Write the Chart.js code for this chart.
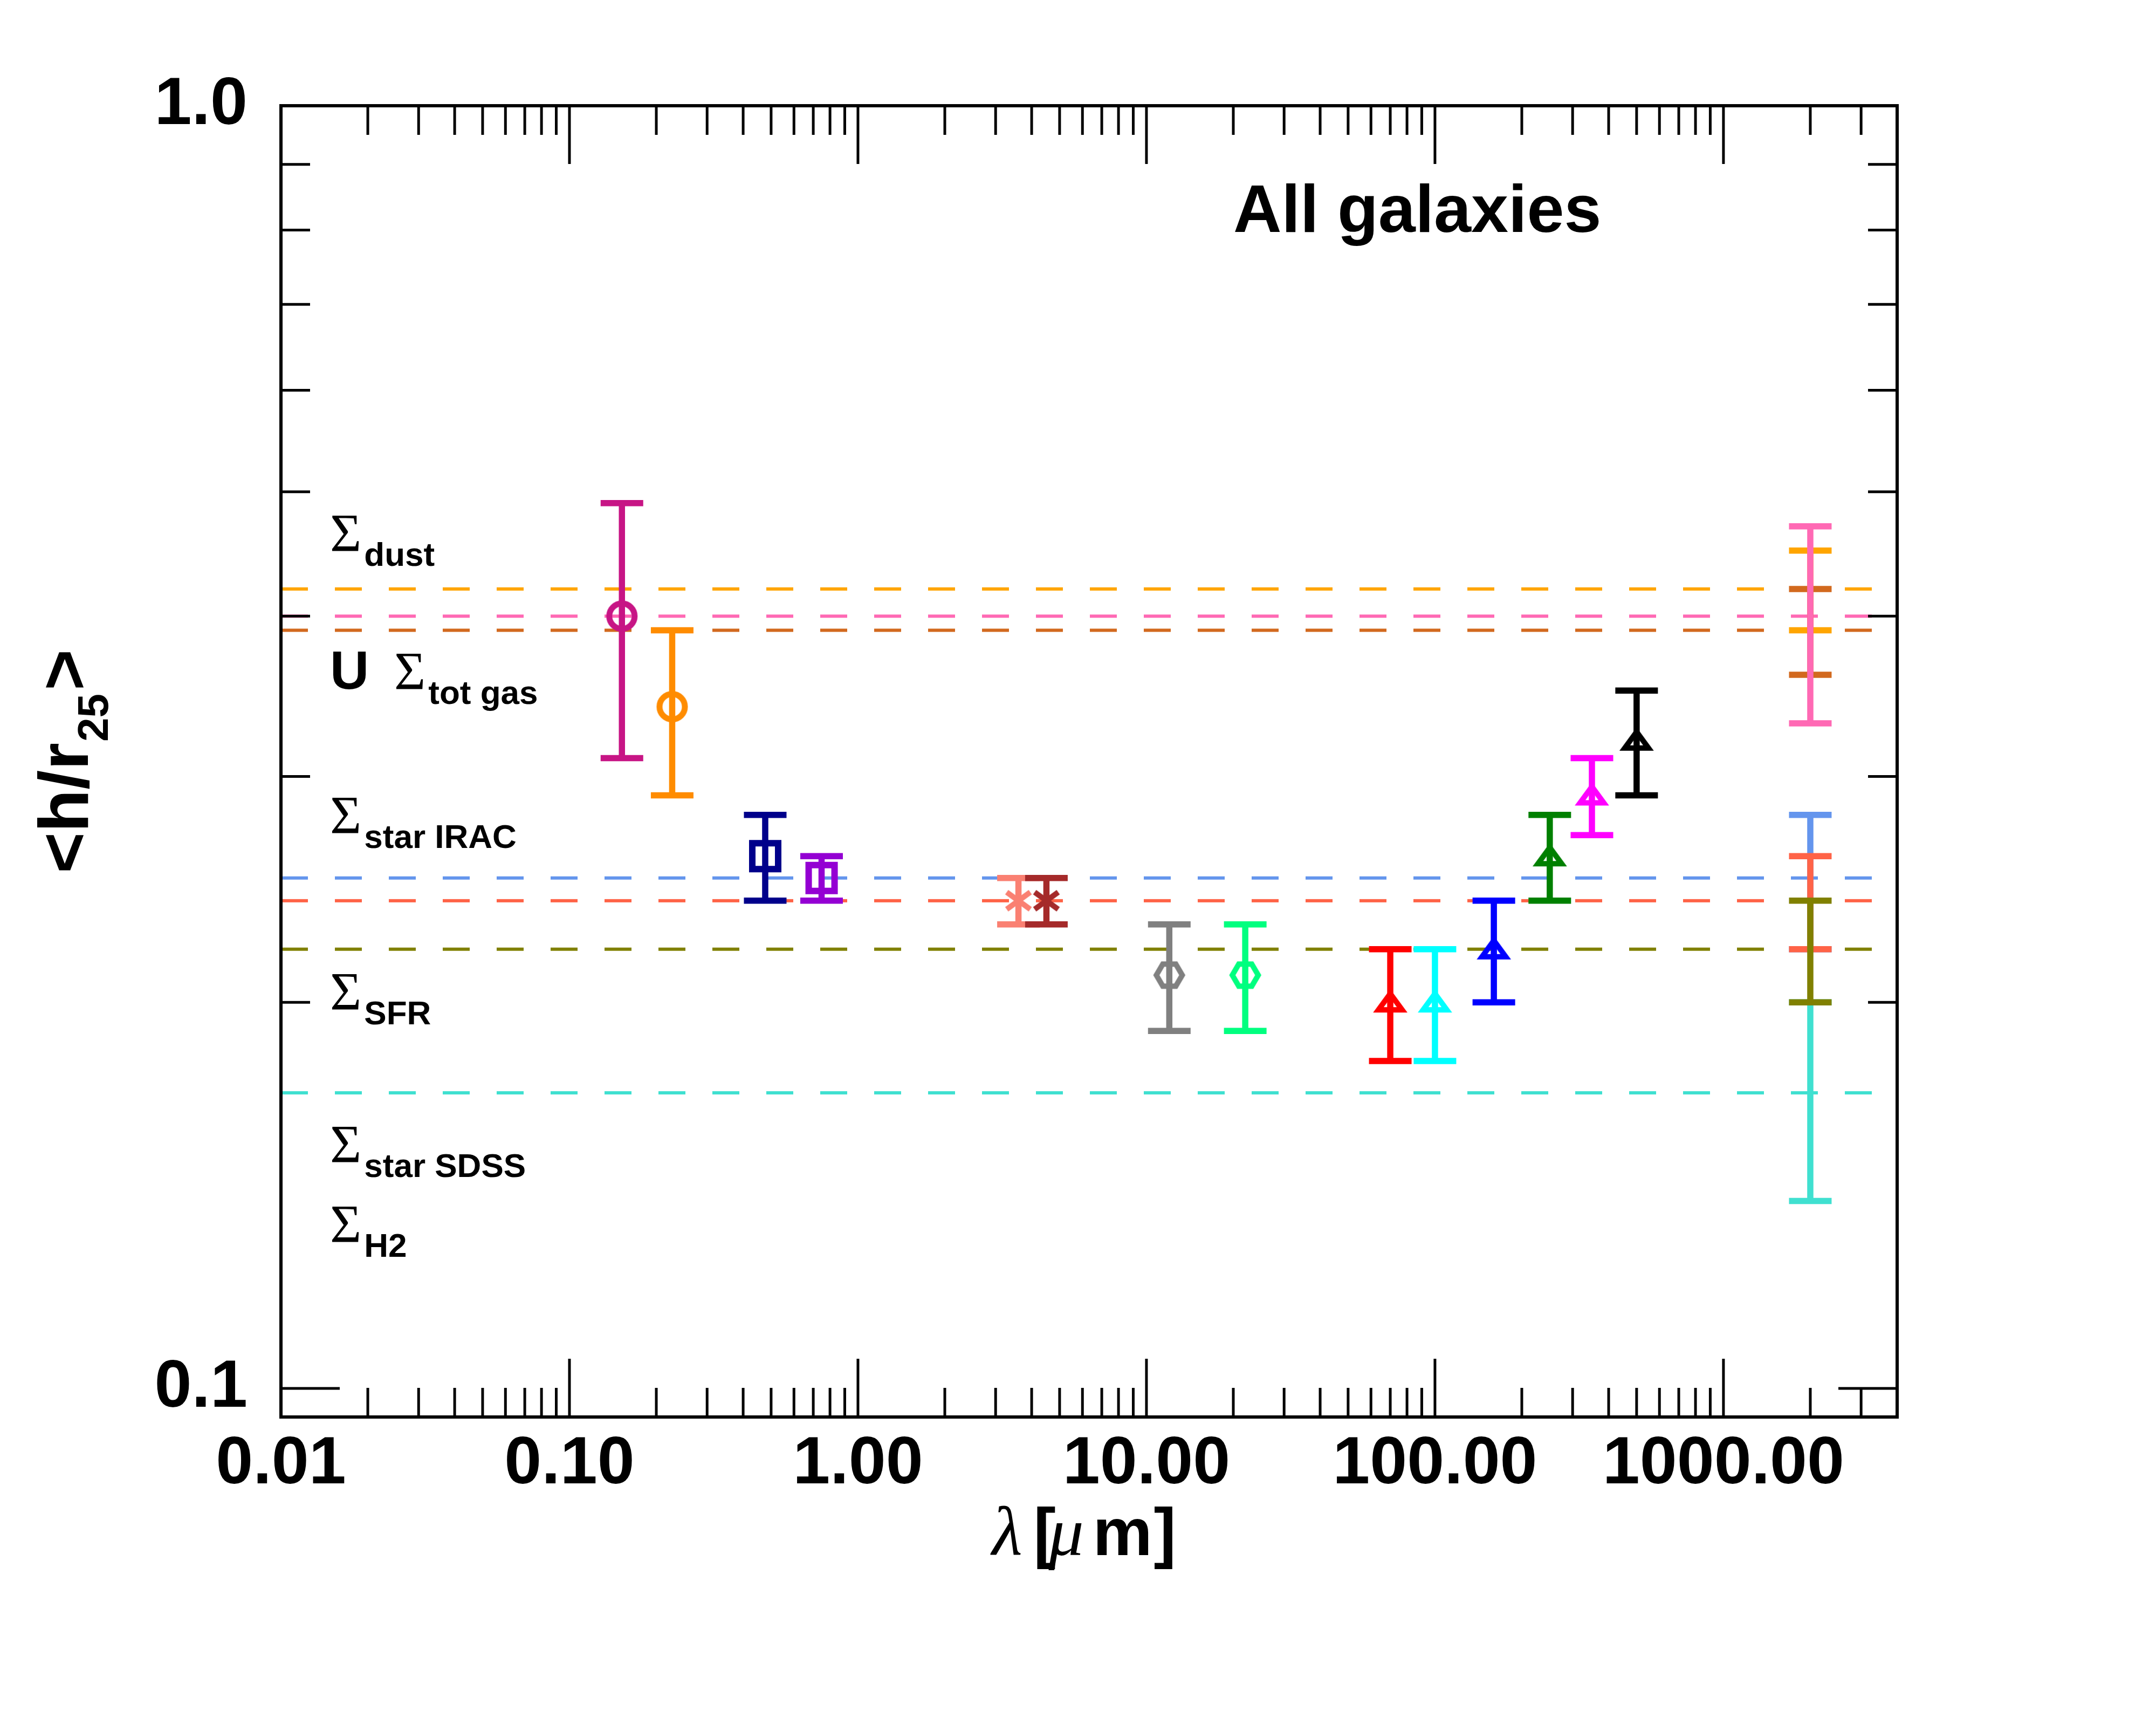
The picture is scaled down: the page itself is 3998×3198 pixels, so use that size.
<!DOCTYPE html>
<html>
<head>
<meta charset="utf-8">
<script src="https://cdn.jsdelivr.net/npm/chart.js@4.4.1/dist/chart.umd.min.js"></script>
<style>
html, body { margin: 0; padding: 0; background: #ffffff; }
canvas { display: block; }
</style>
</head>
<body>
<canvas id="c" width="3998" height="3198" style="width:3998px;height:3198px"></canvas>
<script>
// ---------------- data ----------------
const bandNames       = ['FUV', 'NUV', 'g', 'i', '3.6', '4.5', '12', '22', '70', '100', '160', '250', '350', '500'];
const bandWavelengths = [0.152, 0.227, 0.477, 0.748, 3.6, 4.5, 12, 22, 70, 100, 160, 250, 350, 500];
const bandMeans       = [0.40, 0.34, 0.26, 0.25, 0.24, 0.24, 0.21, 0.21, 0.20, 0.20, 0.22, 0.26, 0.29, 0.32];
const bandErrors      = [0.09, 0.05, 0.02, 0.01, 0.01, 0.01, 0.02, 0.02, 0.02, 0.02, 0.02, 0.02, 0.02, 0.03];
const bandColors      = ['#C71585', '#FF8C00', '#00008B', '#9400D3', '#FA8072', '#A52A2A', '#808080',
                         '#00FF7F', '#FF0000', '#00FFFF', '#0000FF', '#008000', '#FF00FF', '#000000'];
const bandSymbols     = ['circle', 'circle', 'square', 'square', 'asterisk', 'asterisk', 'hexagon', 'hexagon',
                         'triangle', 'triangle', 'triangle', 'triangle', 'triangle', 'triangle'];

// surface-density / radiation-field profiles (dashed mean lines + error bar at 2000 micron)
const profileNames      = ['Σdust', 'Σtot gas', 'U', 'ΣH2', 'Σstar IRAC', 'Σstar SDSS', 'ΣSFR'];
const profileMeans      = [0.42, 0.39, 0.40, 0.17, 0.25, 0.24, 0.22];
const profileErrors     = [0.03, 0.03, 0.07, 0.03, 0.03, 0.02, 0.02];
const profileColors     = ['#FFA500', '#D2691E', '#FF69B4', '#40E0D0', '#6495ED', '#FF6347', '#808000'];
const profileWavelength = 2000;

const xTickValues = [0.01, 0.1, 1, 10, 100, 1000];
const xTickLabels = ['0.01', '0.10', '1.00', '10.00', '100.00', '1000.00'];
const yTickValues = [0.1, 1.0];
const yTickLabels = ['0.1', '1.0'];

const titleText = 'All galaxies';
const titlePos  = [20, 0.797];
const sideLabels = [
  { main: 'Σ', sub: 'dust',      x: 0.0148, y: 0.450 },
  { main: 'Σ', sub: 'tot gas',   x: 0.0247, y: 0.351, prefix: 'U' },
  { main: 'Σ', sub: 'star IRAC', x: 0.0148, y: 0.271 },
  { main: 'Σ', sub: 'SFR',       x: 0.0148, y: 0.1975 },
  { main: 'Σ', sub: 'star SDSS', x: 0.0148, y: 0.1502 },
  { main: 'Σ', sub: 'H2',        x: 0.0148, y: 0.1301 }
];

// ---------------- styling ----------------
const SANS = "'Liberation Sans', Arial, Helvetica, sans-serif";
const SERIF = "'Liberation Serif', 'Times New Roman', serif";
const ERR_LW = 11.5, CAP_HALF = 39.5;

function makeMarker(shape, color) {
  const S = 90;
  const c = document.createElement('canvas');
  c.width = S; c.height = S;
  const g = c.getContext('2d');
  g.translate(S / 2, S / 2);
  g.strokeStyle = color;
  g.lineWidth = 11;
  g.lineJoin = 'miter';
  g.lineCap = 'butt';
  g.beginPath();
  if (shape === 'circle') {
    g.arc(0, 0, 23.5, 0, Math.PI * 2);
  } else if (shape === 'square') {
    g.lineWidth = 12;
    g.rect(-24, -24, 48, 48);
  } else if (shape === 'hexagon') {
    g.lineWidth = 10;
    g.moveTo(-24, 0); g.lineTo(-12, -20.5); g.lineTo(12, -20.5);
    g.lineTo(24, 0); g.lineTo(12, 20.5); g.lineTo(-12, 20.5); g.closePath();
  } else if (shape === 'triangle') {
    g.lineWidth = 10;
    g.moveTo(0, -16); g.lineTo(22, 14); g.lineTo(-22, 14); g.closePath();
  } else if (shape === 'asterisk') {
    g.lineWidth = 10;
    const r = 27;
    [90, 36, -36].forEach(deg => {
      const a = deg * Math.PI / 180;
      g.moveTo(-r * Math.cos(a), -r * Math.sin(a));
      g.lineTo(r * Math.cos(a), r * Math.sin(a));
    });
  }
  g.stroke();
  return c;
}

// ---------------- datasets ----------------
const datasets = [];
// dashed mean lines (drawn first)
profileMeans.forEach((m, i) => {
  datasets.push({
    label: profileNames[i] + ' mean',
    data: [{ x: 0.01, y: m }, { x: 4000, y: m }],
    showLine: true,
    borderColor: profileColors[i],
    borderWidth: 6,
    borderDash: [50, 50],
    borderCapStyle: 'butt',
    pointRadius: 0,
    fill: false,
    order: 1000 - i
  });
});
let seq = 0;
bandWavelengths.forEach((w, i) => {
  datasets.push({
    label: bandNames[i],
    data: [{ x: w, y: bandMeans[i], err: bandErrors[i] }],
    errorColor: bandColors[i],
    pointStyle: makeMarker(bandSymbols[i], bandColors[i]),
    pointRadius: 10,
    borderColor: bandColors[i],
    backgroundColor: bandColors[i],
    order: 500 - (seq++)
  });
});
profileMeans.forEach((m, i) => {
  datasets.push({
    label: profileNames[i],
    data: [{ x: profileWavelength, y: m, err: profileErrors[i] }],
    errorColor: profileColors[i],
    pointRadius: 0,
    borderColor: profileColors[i],
    order: 500 - (seq++)
  });
});

// ---------------- plugins ----------------
const errorBarPlugin = {
  id: 'errorBars',
  beforeDatasetDraw(chart, args) {
    const ds = chart.data.datasets[args.index];
    if (!ds.errorColor) return;
    const xs = chart.scales.x, ys = chart.scales.y, ctx = chart.ctx;
    ctx.save();
    ctx.strokeStyle = ds.errorColor;
    ctx.lineWidth = ERR_LW;
    ctx.lineCap = 'butt';
    ds.data.forEach(p => {
      const px = xs.getPixelForValue(p.x);
      const top = ys.getPixelForValue(p.y + p.err);
      const bot = ys.getPixelForValue(p.y - p.err);
      ctx.beginPath();
      ctx.moveTo(px, top); ctx.lineTo(px, bot);
      ctx.moveTo(px - CAP_HALF, top); ctx.lineTo(px + CAP_HALF, top);
      ctx.moveTo(px - CAP_HALF, bot); ctx.lineTo(px + CAP_HALF, bot);
      ctx.stroke();
    });
    ctx.restore();
  }
};

const framePlugin = {
  id: 'frame',
  afterDatasetsDraw(chart) {
    const ctx = chart.ctx, a = chart.chartArea, xs = chart.scales.x, ys = chart.scales.y;
    ctx.save();
    ctx.strokeStyle = '#000';
    ctx.lineCap = 'butt';
    ctx.lineWidth = 5;
    ctx.beginPath();
    for (let e = -2; e <= 3; e++) {
      for (let k = 1; k <= 9; k++) {
        const v = k * Math.pow(10, e);
        if (v < xs.min * 0.999 || v > xs.max * 1.001) continue;
        const px = xs.getPixelForValue(v);
        const len = k === 1 ? 108 : 54;
        ctx.moveTo(px, a.bottom); ctx.lineTo(px, a.bottom - len);
        ctx.moveTo(px, a.top); ctx.lineTo(px, a.top + len);
      }
    }
    for (let e = -2; e <= 0; e++) {
      for (let k = 1; k <= 9; k++) {
        const v = k * Math.pow(10, e);
        if (v < ys.min * 0.999 || v > ys.max * 1.001) continue;
        const py = ys.getPixelForValue(v);
        const len = k === 1 ? 109 : 54;
        ctx.moveTo(a.left, py); ctx.lineTo(a.left + len, py);
        ctx.moveTo(a.right, py); ctx.lineTo(a.right - len, py);
      }
    }
    ctx.stroke();
    ctx.lineWidth = 6;
    ctx.strokeRect(a.left, a.top, a.right - a.left, a.bottom - a.top);
    ctx.restore();
  }
};

const textPlugin = {
  id: 'texts',
  afterDraw(chart) {
    const ctx = chart.ctx, a = chart.chartArea, xs = chart.scales.x, ys = chart.scales.y;
    ctx.save();
    ctx.fillStyle = '#000';
    ctx.textAlign = 'left';
    ctx.textBaseline = 'alphabetic';

    // in-plot title
    ctx.font = 'bold 124px ' + SANS;
    ctx.fillText(titleText, xs.getPixelForValue(titlePos[0]), ys.getPixelForValue(titlePos[1]));

    // side labels
    sideLabels.forEach(l => {
      const bx = xs.getPixelForValue(l.x), by = ys.getPixelForValue(l.y);
      if (l.prefix) {
        ctx.font = 'bold 100px ' + SANS;
        ctx.fillText(l.prefix, xs.getPixelForValue(0.0148), by);
      }
      ctx.font = '100px ' + SERIF;
      ctx.fillText(l.main, bx, by);
      const w = ctx.measureText(l.main).width;
      ctx.font = 'bold 62px ' + SANS;
      ctx.fillText(l.sub, bx + w + 5, by + 28);
    });

    // x axis title: lambda [mu m]
    const cx = (a.left + a.right) / 2;
    const base = 2883;
    ctx.font = 'italic 130px ' + SERIF;
    ctx.fillText('λ', cx - 180, base);
    ctx.font = 'bold 124px ' + SANS;
    ctx.fillText('[', cx - 103, base);
    ctx.font = 'italic 130px ' + SERIF;
    ctx.fillText('μ', cx - 75, base);
    ctx.font = 'bold 124px ' + SANS;
    ctx.fillText('m', cx + 7, base);
    ctx.fillText(']', cx + 120, base);

    // y axis title: <h/r25>
    ctx.save();
    ctx.translate(163, (a.top + a.bottom) / 2);
    ctx.rotate(-Math.PI / 2);
    const f1 = 'bold 130px ' + SANS, f2 = 'bold 80px ' + SANS;
    ctx.font = f1;
    const w1 = ctx.measureText('<h/r').width, w3 = ctx.measureText('>').width;
    ctx.font = f2;
    const w2 = ctx.measureText('25').width;
    let px = -(w1 + w2 + w3 + 8) / 2;
    ctx.font = f1; ctx.fillText('<h/r', px, 0); px += w1 + 2;
    ctx.font = f2; ctx.fillText('25', px, 37); px += w2 + 6;
    ctx.font = f1; ctx.fillText('>', px, 0);
    ctx.restore();

    ctx.restore();
  }
};

// ---------------- chart ----------------
new Chart(document.getElementById('c').getContext('2d'), {
  type: 'scatter',
  data: { datasets },
  options: {
    responsive: false,
    maintainAspectRatio: false,
    animation: false,
    devicePixelRatio: 1,
    events: [],
    layout: { padding: { left: 0, top: 196, right: 480, bottom: 0 } },
    plugins: { legend: { display: false }, tooltip: { enabled: false } },
    scales: {
      x: {
        type: 'logarithmic',
        position: 'bottom',
        min: 0.01,
        max: 4000,
        grid: { display: false, drawTicks: false },
        border: { display: false },
        afterBuildTicks: s => { s.ticks = xTickValues.map(v => ({ value: v })); },
        afterFit: s => { s.height = 571; },
        ticks: {
          autoSkip: false, maxRotation: 0, minRotation: 0, padding: 14,
          color: '#000', font: { family: SANS, size: 124, weight: 'bold' },
          callback: (v, i) => xTickLabels[i]
        }
      },
      y: {
        type: 'logarithmic',
        position: 'left',
        min: 0.095,
        max: 1.0,
        grid: { display: false, drawTicks: false },
        border: { display: false },
        afterBuildTicks: s => { s.ticks = yTickValues.map(v => ({ value: v })); },
        afterFit: s => { s.width = 521; },
        ticks: {
          autoSkip: false, padding: 62,
          color: '#000', font: { family: SANS, size: 124, weight: 'bold' },
          callback: (v, i) => yTickLabels[i]
        }
      }
    }
  },
  plugins: [errorBarPlugin, framePlugin, textPlugin]
});
</script>
</body>
</html>
